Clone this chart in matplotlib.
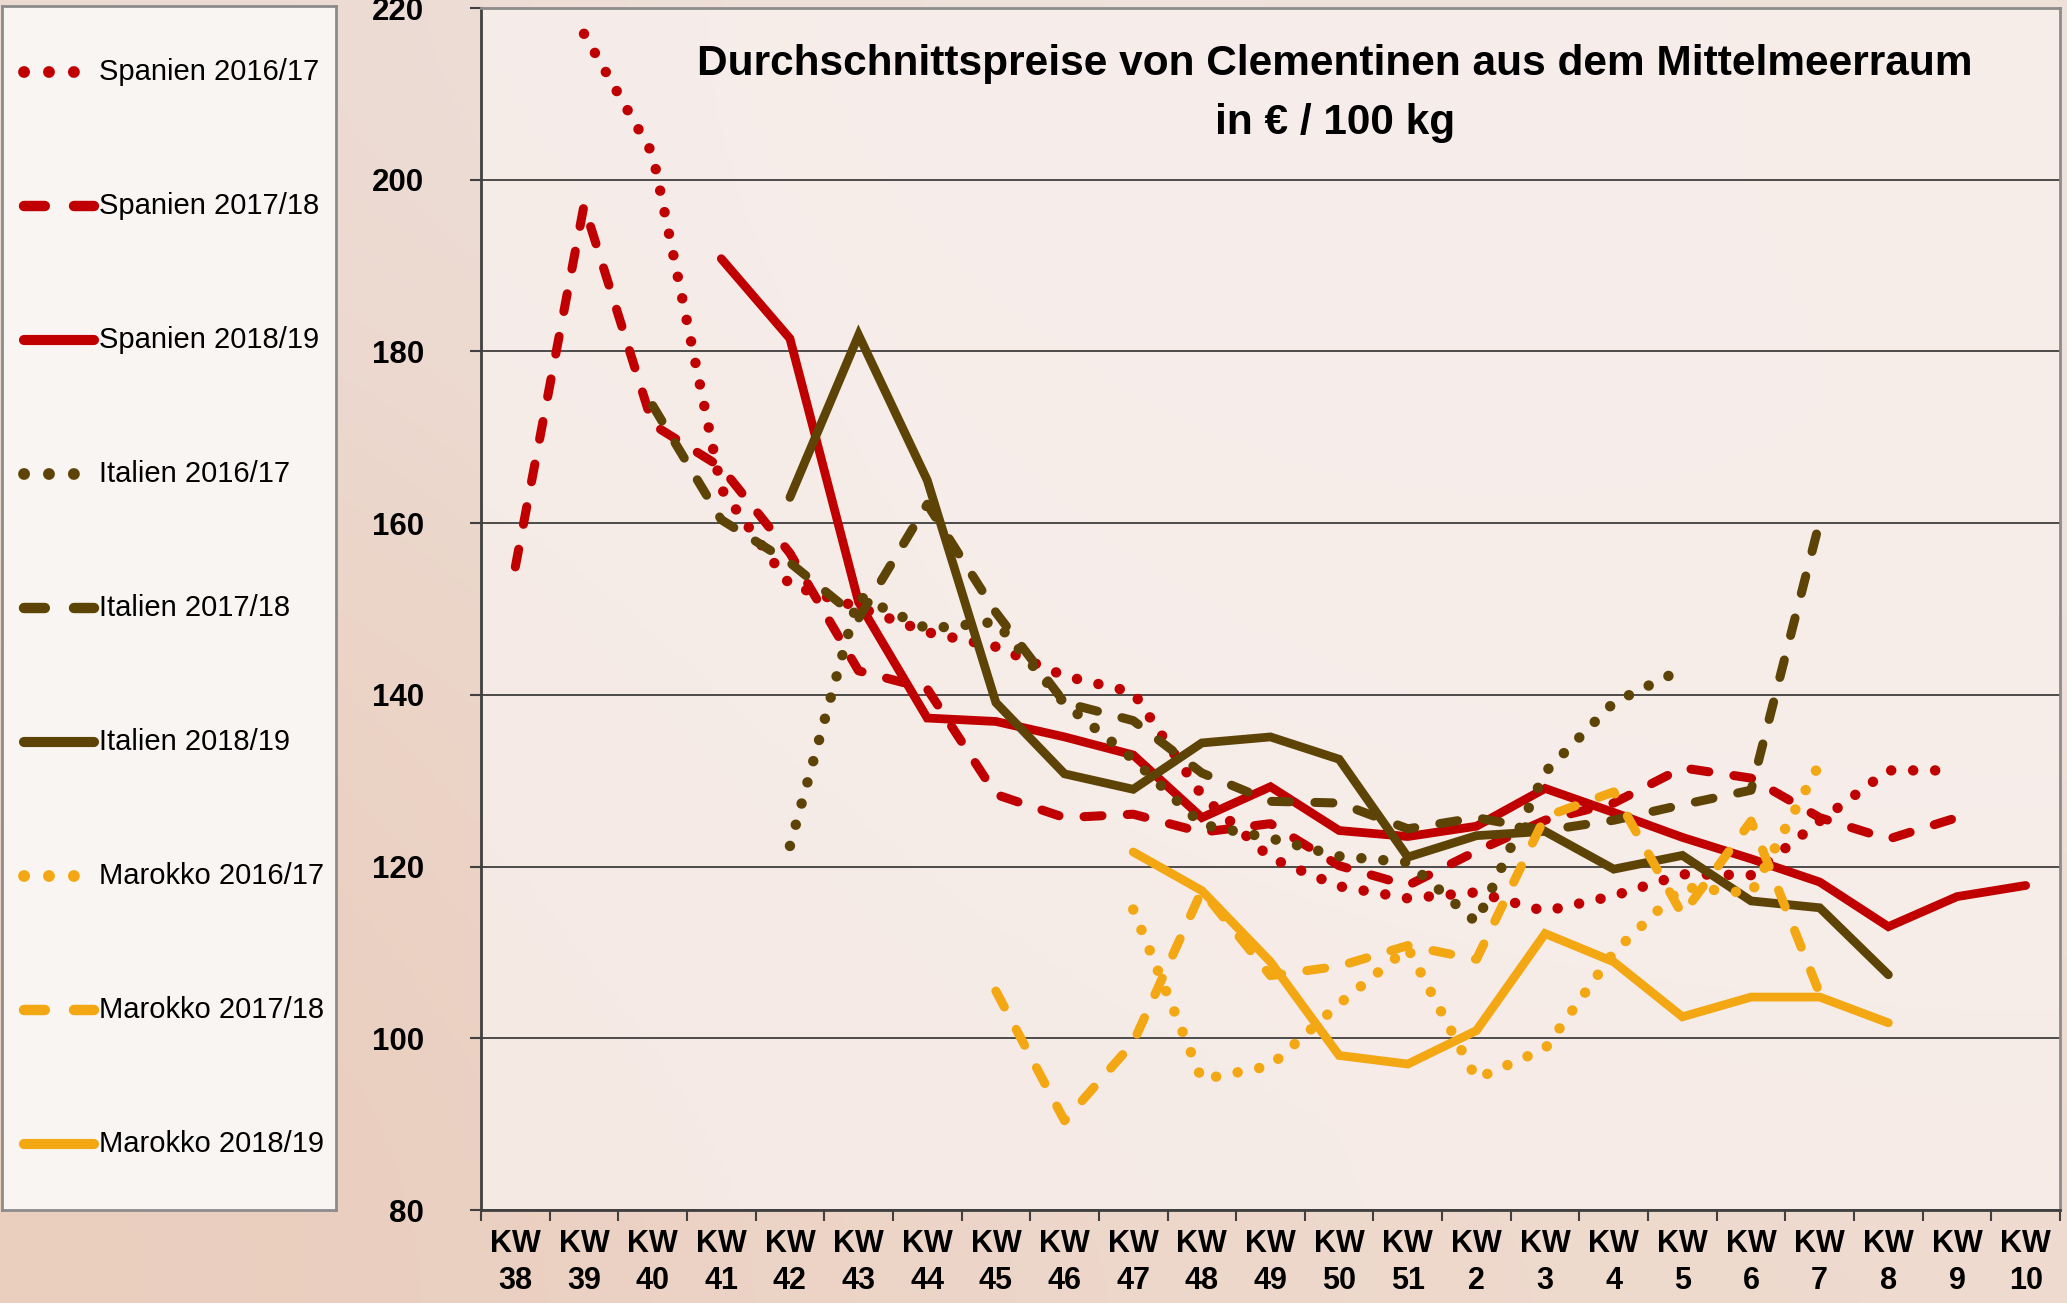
import numpy as np
import matplotlib
matplotlib.use("Agg")
import matplotlib.pyplot as plt

nan = np.nan

# Kalenderwochen (x-Achse)
weeks = ['38', '39', '40', '41', '42', '43', '44', '45', '46', '47', '48', '49',
         '50', '51', '2', '3', '4', '5', '6', '7', '8', '9', '10']

# Preise in EUR / 100 kg
spanien_1617 = [nan, 217, 203, 164, 152.8, 150.2, 147.3, 145.6, 142.2, 140.3, 128.3, 121.0,
                117.7, 116.3, 117.0, 114.8, 116.6, 119.1, 119.0, 125.3, 131.2, 131.2, nan]
spanien_1718 = [154.9, 197, 171.5, 166.5, 156.5, 142.8, 140.7, 128.4, 125.7, 126.1, 124.0, 125.0,
                120.1, 117.8, 121.8, 125.4, 127.4, 131.5, 130.3, 125.7, 123.2, 125.7, nan]
spanien_1819 = [nan, nan, nan, 190.8, 181.5, 150.8, 137.3, 136.9, 135.1, 133.0, 125.7, 129.3,
                124.2, 123.5, 124.7, 129.1, 126.3, 123.4, 120.9, 118.2, 113.0, 116.5, 117.8]
italien_1617 = [nan, nan, nan, nan, 122.4, 151.5, 147.7, 148.5, 139.0, 132.5, 124.9, 123.3,
                121.2, 120.5, 113.5, 131.0, 139.1, 143.0, nan, nan, nan, nan, nan]
italien_1718 = [nan, nan, 173.7, 160.4, 155.4, 148.9, 162.2, 149.6, 139.1, 137.0, 130.9, 127.6,
                127.4, 124.4, 125.7, 124.2, 125.4, 127.2, 128.9, 160.2, nan, nan, nan]
italien_1819 = [nan, nan, nan, nan, 163.0, 181.9, 165.0, 139.1, 130.8, 129.0, 134.4, 135.1,
                132.5, 121.1, 123.6, 124.1, 119.7, 121.3, 116.0, 115.2, 107.4, nan, nan]
marokko_1617 = [nan, nan, nan, nan, nan, nan, nan, nan, nan, 115.0, 95.2, 96.8,
                104.0, 110.5, 95.3, 98.8, 110.0, 117.6, 116.9, 132.0, nan, nan, nan]
marokko_1718 = [nan, nan, nan, nan, nan, nan, nan, 105.5, 90.4, 99.5, 117.2, 107.3,
                108.4, 110.8, 109.2, 125.8, 128.7, 114.4, 125.3, 105.2, nan, nan, nan]
marokko_1819 = [nan, nan, nan, nan, nan, nan, nan, nan, nan, 121.7, 117.2, 108.9,
                98.0, 97.0, 100.9, 112.2, 108.9, 102.5, 104.8, 104.8, 101.8, nan, nan]

labels = ['Spanien 2016/17', 'Spanien 2017/18', 'Spanien 2018/19',
          'Italien 2016/17', 'Italien 2017/18', 'Italien 2018/19',
          'Marokko 2016/17', 'Marokko 2017/18', 'Marokko 2018/19']
series = [spanien_1617, spanien_1718, spanien_1819,
          italien_1617, italien_1718, italien_1819,
          marokko_1617, marokko_1718, marokko_1819]

red = '#c00000'
brown = '#5e4306'
orange = '#f2a713'
colors = [red] * 3 + [brown] * 3 + [orange] * 3
# line style and width per season
dotted = (0, (0.01, 2.1))
dashed = (0, (2.0, 2.8))
styles = [dotted, dashed, '-'] * 3
widths = [7.5, 6.5, 6.3] * 3

plt.rcParams['font.family'] = 'Liberation Sans'

fig = plt.figure(figsize=(20.67, 13.03), dpi=100)

# warm blurred background instead of the photo
bg = fig.add_axes([0, 0, 1, 1], zorder=-10)
grad = np.array([[[236, 218, 210], [240, 228, 222], [239, 224, 216]],
                 [[234, 208, 194], [239, 224, 216], [240, 226, 218]],
                 [[234, 206, 190], [237, 214, 202], [239, 218, 206]]]) / 255
bg.imshow(grad, aspect='auto', interpolation='bicubic', extent=[0, 1, 0, 1])
bg.axis('off')

ax = fig.add_axes([481 / 2067, 1 - 1210 / 1303, 1579 / 2067, 1202 / 1303])
ax.set_facecolor((0.975, 0.95, 0.94, 0.75))

x = np.arange(len(weeks))
for vals, c, ls, lw in zip(series, colors, styles, widths):
    ax.plot(x, vals, color=c, linestyle=ls, linewidth=lw,
            dash_capstyle='round', solid_capstyle='round', solid_joinstyle='miter')

ax.set_xlim(-0.5, len(weeks) - 0.5)
ax.set_ylim(80, 220)
ax.set_yticks(np.arange(80, 221, 20))
ax.yaxis.grid(True, color='#303030', linewidth=1.2)
ax.set_axisbelow(True)

ax.set_xticks(x)
ax.set_xticklabels(['KW\n' + w for w in weeks], fontsize=22, fontweight='bold',
                   linespacing=1.3)
ax.set_xticks(np.arange(-0.5, len(weeks), 1), minor=True)
ax.set_yticklabels([str(v) for v in range(80, 221, 20)], fontsize=22.5, fontweight='bold')
ax.tick_params(axis='x', which='major', length=0, pad=14)
ax.tick_params(axis='x', which='minor', length=8, width=1.5, color='#404040')
ax.tick_params(axis='y', length=8, width=1.5, color='#404040', pad=33)

for s in ['left', 'bottom']:
    ax.spines[s].set_color('#404040')
    ax.spines[s].set_linewidth(2)
for s in ['top', 'right']:
    ax.spines[s].set_color('#8c8c8c')
    ax.spines[s].set_linewidth(2)

fig.text(1335 / 2067, 1 - 64 / 1303, 'Durchschnittspreise von Clementinen aus dem Mittelmeerraum',
         ha='center', va='center', fontsize=30.5, fontweight='bold')
fig.text(1335 / 2067, 1 - 123 / 1303, 'in € / 100 kg',
         ha='center', va='center', fontsize=30.5, fontweight='bold')

# legend box on the left
lax = fig.add_axes([2 / 2067, 1 - 1210 / 1303, 334 / 2067, 1204 / 1303])
lax.set_xlim(0, 334)
lax.set_ylim(1204, 0)
lax.set_facecolor('#f9f5f3')
lax.set_xticks([])
lax.set_yticks([])
for s in lax.spines.values():
    s.set_color('#8c8c8c')
    s.set_linewidth(2)
for i, (lab, c, ls, lw) in enumerate(zip(labels, colors, styles, widths)):
    yc = 66 + 134 * i
    lax.plot([22, 92], [yc, yc], color=c, linestyle=ls, linewidth=lw + 1,
             dash_capstyle='round', solid_capstyle='round')
    lax.text(97, yc, lab, va='center', ha='left', fontsize=21)

fig.savefig('out.png', dpi=100)
